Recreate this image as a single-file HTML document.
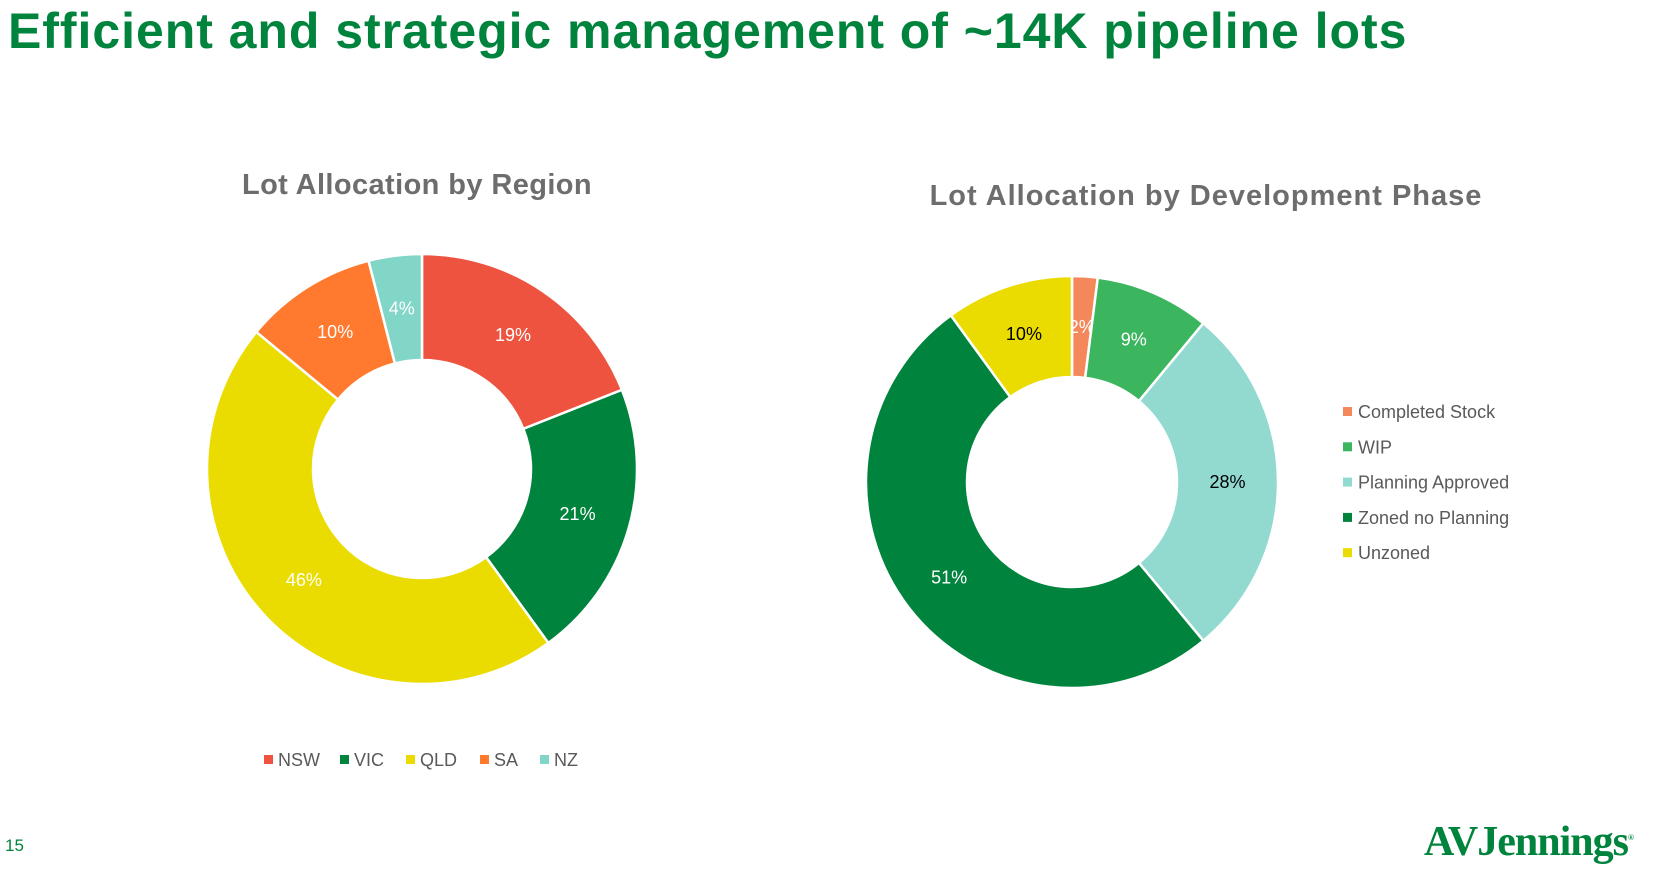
<!DOCTYPE html>
<html><head><meta charset="utf-8">
<style>
body{margin:0;width:1654px;height:872px;background:#fff;overflow:hidden;font-family:"Liberation Sans",sans-serif;position:relative}
#title{position:absolute;left:8px;top:2px;font-size:50px;font-weight:bold;color:#00843D;white-space:nowrap;letter-spacing:0.95px}
#pg{position:absolute;left:5px;top:836px;font-size:17px;color:#00843D}
#logo{position:absolute;left:1424px;top:818px;font-family:"Liberation Serif",serif;font-size:42px;font-weight:bold;color:#00843D;letter-spacing:-1px}
svg{position:absolute;left:0;top:0}
</style></head><body>
<div id="title">Efficient and strategic management of ~14K pipeline lots</div>
<div id="pg">15</div>
<div id="logo">AVJennings<sup style="font-size:8px">®</sup></div>
<svg id="svg" width="1654" height="872">
<text x="417" y="194" text-anchor="middle" font-size="29" font-weight="bold" fill="#6d6d6d" letter-spacing="0.4">Lot Allocation by Region</text>
<text x="1206" y="205" text-anchor="middle" font-size="29" font-weight="bold" fill="#6d6d6d" letter-spacing="1.0">Lot Allocation by Development Phase</text>
</svg>
<script>
const regionCats=["NSW","VIC","QLD","SA","NZ"];
const regionVals=[19,21,46,10,4];
const regionColors=["#EE5340","#00843D","#EADC00","#FF7A2E","#82D6C8"];
const regionLabelColors=["#fff","#fff","#fff","#fff","#fff"];
const phaseCats=["Completed Stock","WIP","Planning Approved","Zoned no Planning","Unzoned"];
const phaseVals=[2,9,28,51,10];
const phaseColors=["#F4885A","#3CB55F","#92D9D0","#00843D","#EADC00"];
const phaseLabelColors=["#fff","#fff","#000","#fff","#000"];
const NS="http://www.w3.org/2000/svg";
const svg=document.getElementById('svg');
function mk(t,a){const e=document.createElementNS(NS,t);for(const k in a)e.setAttribute(k,a[k]);svg.appendChild(e);return e;}
function donut(cx,cy,R,r,vals,cols,lcols,cats,prefix){
  const tot=vals.reduce((a,b)=>a+b,0);let a0=0;
  vals.forEach((v,i)=>{
    const a1=a0+v/tot*2*Math.PI;
    const p=(a,rad)=>[cx+rad*Math.sin(a),cy-rad*Math.cos(a)];
    const [x1,y1]=p(a0,R),[x2,y2]=p(a1,R),[x3,y3]=p(a1,r),[x4,y4]=p(a0,r);
    const lg=(a1-a0)>Math.PI?1:0;
    const path=mk('path',{d:`M${x1},${y1}A${R},${R} 0 ${lg} 1 ${x2},${y2}L${x3},${y3}A${r},${r} 0 ${lg} 0 ${x4},${y4}Z`,fill:cols[i],stroke:'#fff','stroke-width':2.5});
    
    
    const am=(a0+a1)/2,[lx,ly]=p(am,(R+r)/2);
    const t=mk('text',{x:lx,y:ly+6,'text-anchor':'middle','font-size':18,fill:lcols[i]});
    t.textContent=v+'%';
    
    
    a0=a1;
  });
}
donut(422,469,215,109,regionVals,regionColors,regionLabelColors,regionCats,'region');
donut(1072,482,206,105,phaseVals,phaseColors,phaseLabelColors,phaseCats,'phase');
const rlx=[264,340,406,480,540];
regionCats.forEach((c,i)=>{
  const s=mk('rect',{x:rlx[i],y:755,width:9,height:9,fill:regionColors[i]});
  
  
  const t=mk('text',{x:rlx[i]+14,y:766,'font-size':18,fill:'#595959'});t.textContent=c;
  
  
});
phaseCats.forEach((c,i)=>{
  const y=412+i*35.3;
  const s=mk('rect',{x:1343,y:y-5,width:9,height:9,fill:phaseColors[i]});
  
  
  const t=mk('text',{x:1358,y:y+6,'font-size':18,fill:'#595959'});t.textContent=c;
  
  
});
</script>
</body></html>
